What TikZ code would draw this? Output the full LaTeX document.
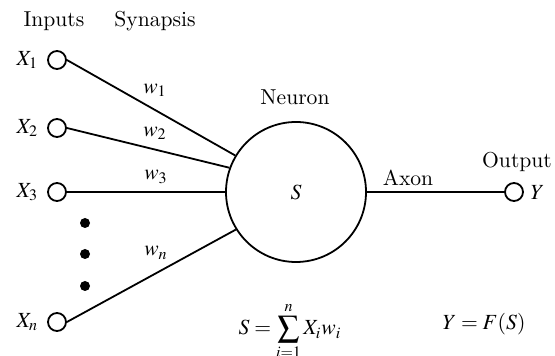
\documentclass[tikz,border=0pt]{standalone}
\usepackage{mathptmx}
\usetikzlibrary{positioning}
\begin{document}
\begin{tikzpicture}[x=0.5pt,y=-0.5pt,line width=0.9pt,
  inp/.style={circle,draw,minimum size=9pt,inner sep=0pt},
  dotn/.style={circle,fill,minimum size=5pt,inner sep=0pt},
  lbl/.style={font=\fontsize{10.8}{12}\selectfont,inner sep=1pt}]
\useasboundingbox (0,0) rectangle (555,356);
% header labels
\node[lbl] (tin) at (54,21) {Inputs};
\node[lbl] (tsy) at (155,21) {Synapsis};
% input circles
\node[inp] (x1) at (57,60) {};
\node[inp] (x2) at (57,128) {};
\node[inp] (x3) at (57,192) {};
\node[inp] (xn) at (57,322) {};
\node[lbl,left=3pt of x1] (lx1) {$X_1$};
\node[lbl,left=3pt of x2] (lx2) {$X_2$};
\node[lbl,left=3pt of x3] (lx3) {$X_3$};
\node[lbl,left=3pt of xn] (lxn) {$X_n$};
% dots
\node[dotn] (d1) at (85,223) {};
\node[dotn] (d2) at (85,254) {};
\node[dotn] (d3) at (85,286) {};
% neuron
\node[circle,draw,minimum size=70pt,inner sep=0pt,font=\fontsize{10.8}{12}\selectfont] (n) at (296,192) {$S$};
\node[lbl] (tn) at (295,97) {Neuron};
% synapses
\draw (x1.east) -- (n.149);
\draw (x2.east) -- (n.160);
\draw (x3.east) -- (n.180);
\draw (xn.east) -- (n.212);
\node[lbl] (w1) at (155,90) {$w_1$};
\node[lbl] (w2) at (155,133) {$w_2$};
\node[lbl] (w3) at (156,177) {$w_3$};
\node[lbl] (wn) at (156,253) {$w_n$};
% output
\node[inp] (y) at (514,192) {};
\draw (n.east) -- (y.west);
\node[lbl,right=2pt of y] (ly) {$Y$};
\node[lbl] (tax) at (408,178) {Axon};
\node[lbl] (tout) at (517,162) {Output};
% formulas
\node[lbl] (fs) at (290,331) {$\displaystyle S=\sum_{i=1}^{n} X_i w_i$};
\node[lbl] (fy) at (484,324) {$Y=F(S)$};
\end{tikzpicture}
\end{document}
